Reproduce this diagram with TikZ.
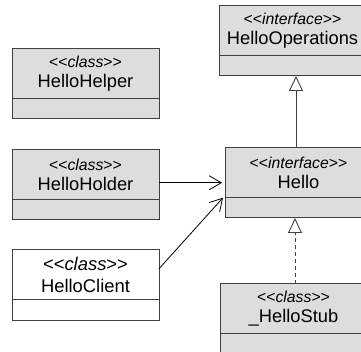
\documentclass[tikz,border=0pt]{standalone}
\usepackage{fontspec}
\setmainfont{Liberation Sans}[Ligatures=TeXOff]
\usetikzlibrary{positioning, math, calc, arrows.meta}
\definecolor{boxgray}{RGB}{221,221,221}
\definecolor{linegray}{RGB}{64,64,64}
\newcommand{\stereo}[1]{{\fontsize{15.8}{20}\selectfont <<\textit{#1}>>}}

\begin{document}
\begin{tikzpicture}[x=1pt, y=-1pt]
		\tikzmath{
			\boxW       = 147;   %box width
			\headH      = 49.5;  %name part height
			\attrH      = 20.5;  %attribute part height
		}
		\tikzstyle{Base} = [
			draw=linegray,
			line width=1pt,
			outer sep=0pt,
			inner sep=0pt,
			align=center,
			minimum width=\boxW pt,
			font=\fontsize{18.3}{20}\selectfont
		]
		\tikzstyle{Head} = [
			fill=boxgray,
			minimum height=\headH pt,
			Base
		]
		\tikzstyle{Attr} = [
			fill=boxgray,
			minimum height=\attrH pt,
			Base
		]
		\tikzstyle{Gen} = [
			draw=linegray,
			line width=0.9pt,
			-{Triangle[open, length=15pt, width=14pt, line width=0.9pt]}
		]
		\tikzstyle{Assoc} = [
			draw=black,
			line width=0.8pt,
			shorten >=3pt,
			-{Straight Barb[length=12pt, width=14pt]}
		]
		\useasboundingbox (0,0) rectangle (361,352);
		\clip (0,0) rectangle (361,352);
		
		%%%%%%%%%%%%%%%%%%%%%%%%%%===---LEFT COLUMN---===%%%%%%%%%%%%%%%%%%%%%%%%%%
		\node (helper) [Head, anchor=north west] at (12,49) {\stereo{class}\\HelloHelper};
			\node (helperA) [Attr, below = 0pt of helper] {};
		\node (holder) [Head, below = 31pt of helperA] {\stereo{class}\\HelloHolder};
			\node (holderA) [Attr, below = 0pt of holder] {};
		\node (client) [Head, fill=white, font=\fontsize{18.4}{22}\selectfont, below = 30pt of holderA] {<<\textit{class}>>\\HelloClient};
			\node (clientA) [Attr, fill=white, below = 0pt of client] {};
		%%%%%%%%%%%%%%%%%%%%%%%%%%===---RIGHT COLUMN---===%%%%%%%%%%%%%%%%%%%%%%%%%%
		\node (ops) [Head, anchor=north west] at (219,6) {\stereo{interface}\\HelloOperations};
			\node (opsA) [Attr, below = 0pt of ops] {};
		\node (hello) [Head, anchor=north west] at (225,148) {\stereo{interface}\\Hello};
			\node (helloA) [Attr, below = 0pt of hello] {};
		\node (stub) [Head, anchor=north west] at (220,284) {\stereo{class}\\\_HelloStub};
			\node (stubA) [Attr, below = 0pt of stub] {};
		%%%%%%%%%%%%%%%%%%%%%%%%%%===---CONNECTORS---===%%%%%%%%%%%%%%%%%%%%%%%%%%
		\draw [Gen] ($(hello.north)+(-2.5,0)$) -- ($(opsA.south)+(3.5,0)$);
		\draw [Gen, dash pattern=on 4pt off 3pt] ($(stub.north)+(1.5,0)$) -- ($(helloA.south)+(-3.5,0)$);
		\coordinate (holdOut) at ($(holder.east)+(0,8)$);
		\draw [Assoc] (holdOut) -- (holdOut -| hello.west);
		\draw [Assoc] ($(client.east)+(0,-6)$) -- ($(hello.south west)+(0,-2)$);
		
	\end{tikzpicture}
\end{document}
